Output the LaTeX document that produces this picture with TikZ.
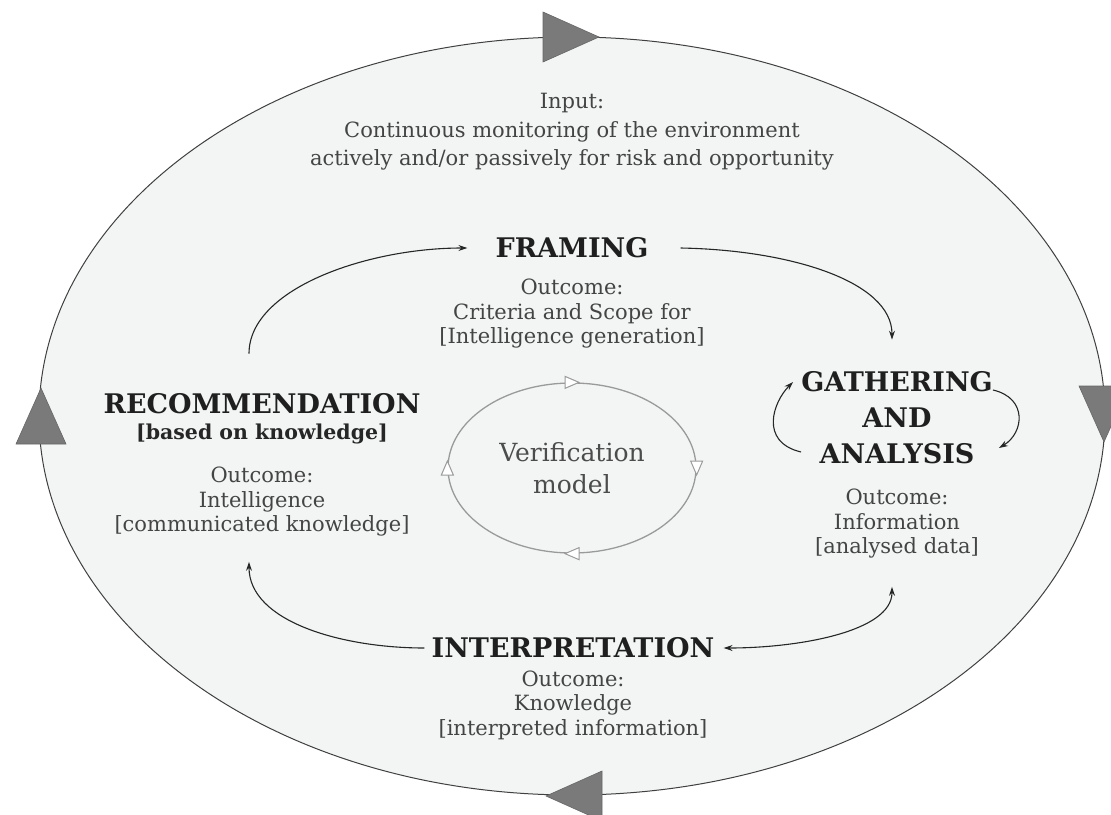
\documentclass[tikz,border=0pt]{standalone}
\usepackage{fontspec}
\setmainfont{DejaVu Serif}
\usetikzlibrary{arrows.meta,calc,shapes.geometric}
\definecolor{bgfill}{HTML}{F3F5F5}
\definecolor{trifill}{HTML}{7A7A7A}
\definecolor{txt}{HTML}{444444}
\definecolor{vgray}{HTML}{9A9A9A}
\begin{document}
\begin{tikzpicture}[x=1pt,y=-1pt,
  >={Stealth[length=9pt,width=6pt]},
  head/.style={font=\fontsize{27}{36}\selectfont\bfseries, text=black!88, align=center, inner sep=0pt},
  body/.style={font=\fontsize{21}{24.5}\selectfont, text=txt, align=center, inner sep=0pt},
  conn/.style={line width=1.1pt, draw=black!85},
  bigtri/.pic={\filldraw[fill=trifill,draw=black!60,line width=0.6pt] (28,0) -- (-28,-25) -- (-28,25) -- cycle;},
  opentri/.pic={\filldraw[fill=white,draw=vgray,line width=1pt] (7,0) -- (-7,-6) -- (-7,6) -- cycle;}
]
\useasboundingbox (0,0) rectangle (1111,814);
% outer cycle
\filldraw[fill=bgfill, draw=black!75, line width=1pt] (572,416) ellipse [x radius=533pt, y radius=379pt];
\pic at (571,37) {bigtri};
\pic[rotate=90] at (41,416) {bigtri};
\pic[rotate=-90] at (1104,414) {bigtri};
\pic[rotate=180] at (574,796) {bigtri};

% texts
\node[body, font=\fontsize{21}{28.5}\selectfont] (input) at (572,132) {Input:\\Continuous monitoring of the environment\\actively and/or passively for risk and opportunity};
\node[head] (framing) at (572,248) {FRAMING};
\node[body] (frout) at (572,314) {Outcome:\\Criteria and Scope for\\{[}Intelligence generation{]}};
\node[head] (rec) at (262,404) {RECOMMENDATION};
\node[body, font=\fontsize{20.5}{24}\selectfont\bfseries, text=black!85] (recsub) at (262,434) {{[}based on knowledge{]}};
\node[body] (recout) at (262,502) {Outcome:\\Intelligence\\{[}communicated knowledge{]}};
\node[head] (gath) at (897,418) {GATHERING\\AND\\ANALYSIS};
\node[body] (gaout) at (897,524) {Outcome:\\Information\\{[}analysed data{]}};
\node[head] (interp) at (573,648) {INTERPRETATION};
\node[body] (inout) at (573,705) {Outcome:\\Knowledge\\{[}interpreted information{]}};

% verification model
\node[ellipse, draw=vgray, line width=1.3pt, minimum width=248pt, minimum height=170pt, inner sep=0pt,
      font=\fontsize{25}{32}\selectfont, text=black!70, align=center] (verif) at (572,468) {Verification\\model};
\pic at (verif.north) {opentri};
\pic[rotate=-90] at (verif.east) {opentri};
\pic[rotate=180] at (verif.south) {opentri};
\pic[rotate=90] at (verif.west) {opentri};

% connectors
\draw[conn,->] ($(rec.north)+(-13,-40)$) .. controls +(0,-65) and +(-100,0) .. ($(framing.west)+(-28,0)$);
\draw[conn,->] ($(framing.east)+(32,0)$) .. controls +(110,2) and +(0,-58) .. ($(gath.north)+(-5,-32)$);
\draw[conn,->] ($(gath.west)+(0,34)$) .. controls +(-42,-10) and +(-20,20) .. ($(gath.west)+(-8,-36)$);
\draw[conn,->] ($(gath.east)+(0,-28)$) .. controls +(35,8) and +(25,-15) .. ($(gath.east)+(6,30)$);
\draw[conn,<->] ($(interp.east)+(9,0)$) .. controls +(74,0) and +(0,45) .. ($(gaout.south)+(-5,28)$);
\draw[conn,->] ($(interp.west)+(-7,0)$) .. controls +(-82,0) and +(0,60) .. ($(recout.south)+(-13,25)$);
\end{tikzpicture}
\end{document}
